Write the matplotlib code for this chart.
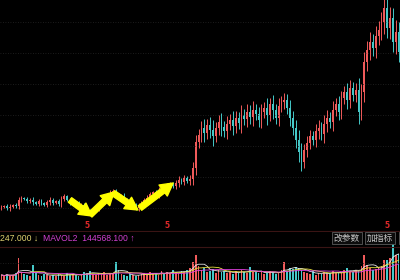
import numpy as np
import pandas as pd
import matplotlib
matplotlib.use('Agg')
import matplotlib.pyplot as plt

# daily closes (price panel)
close = [5.15, 5.2, 5.1, 5.15, 5.25, 5.2,
         5.5, 5.6, 5.55, 5.45, 5.5,
         5.4, 5.3, 5.45, 5.35, 5.25, 5.4, 5.5, 5.35,
         5.45, 5.3, 5.55, 5.7, 5.5, 5.35,
         5.4, 5.3, 5.15, 5.25, 5.05, 4.95, 4.85, 5.0,
         5.1, 5.3, 5.45, 5.6, 5.7, 5.85, 5.95,
         5.8, 5.65, 5.7, 5.5, 5.35, 5.2, 5.25, 5.1,
         5.2, 5.35, 5.5, 5.6, 5.8, 5.9, 5.75, 6.0, 6.1, 5.95, 6.2, 6.3, 6.2, 6.35,
         6.5, 6.4, 6.6, 6.45, 6.55,
         7.1, 8.4,
         8.75, 9.1, 8.85, 9.25, 9.0, 8.7, 9.1, 9.4, 9.15, 8.95, 9.3,
         9.5, 9.2, 9.6, 9.35, 9.75, 9.55, 9.9, 9.65, 10.0,
         9.8, 9.5, 9.9, 10.1, 9.75, 10.3, 10.0, 9.6, 10.2, 10.4, 10.5, 10.1,
         9.6, 9.1, 8.5, 7.9, 7.4,
         8.0, 8.35, 8.7, 8.5, 8.95, 9.1, 8.8,
         9.3, 9.6, 9.4, 10.0, 10.3, 9.9, 10.6, 10.9, 10.5, 11.1, 10.75, 11.0,
         9.9,
         10.9, 12.4,
         13.0, 13.4, 13.1, 13.7, 14.0, 14.4,
         15.1,
         14.1, 14.6, 13.4, 13.9, 12.9]
first_open = 5.1

# shadow length above/below the body
wick = [0.1, 0.05, 0.1, 0.15, 0.05, 0.1, 0.15, 0.1, 0.05, 0.1,
        0.1, 0.15, 0.05, 0.1, 0.1, 0.05, 0.1, 0.15, 0.1, 0.05,
        0.1, 0.15, 0.1, 0.05, 0.1, 0.1, 0.05, 0.15, 0.1, 0.1,
        0.15, 0.1, 0.05, 0.1, 0.15, 0.1, 0.1, 0.05, 0.15, 0.1,
        0.1, 0.05, 0.1, 0.15, 0.1, 0.1, 0.05, 0.1, 0.15, 0.1,
        0.1, 0.15, 0.1, 0.05, 0.1, 0.15, 0.1, 0.1, 0.15, 0.1,
        0.1, 0.15, 0.2, 0.1, 0.15, 0.1, 0.2, 0.3, 0.35, 0.3,
        0.35, 0.45, 0.3, 0.4, 0.5, 0.3, 0.35, 0.45, 0.3, 0.4,
        0.3, 0.45, 0.35, 0.3, 0.5, 0.3, 0.4, 0.35, 0.45, 0.3,
        0.35, 0.4, 0.3, 0.5, 0.3, 0.45, 0.3, 0.4, 0.3, 0.35,
        0.3, 0.4, 0.35, 0.4, 0.5, 0.45, 0.3, 0.35, 0.3, 0.25,
        0.35, 0.4, 0.3, 0.45, 0.4, 0.3, 0.45, 0.3, 0.4, 0.35,
        0.3, 0.45, 0.4, 0.3, 0.35, 0.6, 0.4, 0.5, 0.45, 0.5,
        0.4, 0.5, 0.45, 0.5, 0.6, 0.5, 0.55, 0.5, 0.6, 0.5]

# volume, 10k lots
vol = [5, 4, 6, 4, 5, 7, 22, 8, 6, 5, 4,
       15, 7, 5, 4, 6, 5, 4, 5,
       4, 6, 5, 4, 7, 5,
       6, 5, 4, 6, 8, 7, 9, 6,
       5, 7, 6, 8, 5, 6, 7,
       18, 10, 6, 5, 4, 6, 5, 4,
       5, 6, 7, 5, 8, 6, 7, 5, 9, 6, 8, 7, 10, 8,
       7, 9, 8, 10, 12,
       18, 25,
       14, 10, 12, 8, 9, 11, 7, 10, 8, 9, 7,
       8, 6, 9, 7, 10, 8, 7, 13, 8,
       9, 7, 8, 6, 7, 9, 8, 6, 7, 10, 18, 9,
       12, 11, 13, 12, 10,
       8, 7, 6, 9, 5, 7, 6,
       8, 6, 7, 9, 7, 8, 7, 10, 12, 9, 8, 10,
       9,
       14, 25,
       15, 12, 10, 11, 13, 14,
       20,
       20, 22, 37, 25, 26]

signal_idx = [30, 58, 135]
signal_text = '5'
# yellow arrows drawn on the chart: (start day, start price) -> (end day, end price)
arrows = [((24.0, 5.5), (31.7, 4.7)),
          ((31.0, 4.75), (39.4, 5.9)),
          ((39.1, 5.85), (47.8, 5.0)),
          ((48.5, 5.1), (60.1, 6.35))]
grid_levels = [14.4, 12.85, 11.3, 9.75, 8.2, 6.65, 5.1]
vol_text = '247.000 \u2193'
mavol_text = 'MAVOL2  144568.100 \u2191'
buttons = ['改参数', '加指标', '指']

up_col = '#f05a5a'
dn_col = '#45c8c8'

n = len(close)
x = np.arange(n)
opens = [first_open] + close[:-1]
hi = [max(o, c) + w for o, c, w in zip(opens, close, wick)]
lo = [min(o, c) - w for o, c, w in zip(opens, close, wick)]
cols = [up_col if c >= o else dn_col for o, c in zip(opens, close)]

fig = plt.figure(figsize=(4, 2.8), dpi=100, facecolor='black')
ax = fig.add_axes([0, 48/280, 1, 232/280], facecolor='black')
axv = fig.add_axes([0, 0, 1, 40/280], facecolor='none')

# price panel
for lv in grid_levels:
    ax.axhline(lv, color='#262626', lw=0.6, ls=(0, (1, 2)))
ax.vlines(x, lo, hi, colors=cols, lw=0.7)
body = [max(abs(c - o), 0.03) for o, c in zip(opens, close)]
ax.bar(x, body, bottom=[min(o, c) for o, c in zip(opens, close)],
       width=0.62, color=cols, linewidth=0)
for (s, e) in arrows:
    ax.annotate('', xy=e, xytext=s,
                arrowprops=dict(arrowstyle='simple,head_width=1.1,head_length=1.0,tail_width=0.45',
                                color='#ffff00', shrinkA=0, shrinkB=0, mutation_scale=9))
for i in signal_idx:
    ax.text(i, 4.2, signal_text, color='#e02828', fontsize=5.5, ha='center', va='center',
            fontweight='bold')
ax.set_xlim(-0.5, n - 0.5)
ax.set_ylim(3.9, 15.5)
ax.set_xticks([])
ax.set_yticks([])
for s in ax.spines.values():
    s.set_visible(False)
ax.axhline(3.93, color='#3a1414', lw=0.8)

# volume panel
axv.bar(x, vol, width=0.62, color=cols, linewidth=0)
vs = pd.Series(vol, dtype=float)
axv.plot(x, vs.rolling(5, min_periods=1).mean(), color='#e8e8e8', lw=0.6)
axv.plot(x, vs.rolling(10, min_periods=1).mean(), color='#e8e040', lw=0.6)
axv.plot(x, vs.rolling(20, min_periods=1).mean(), color='#e040e0', lw=0.6)
axv.axhline(33, color='#3a1414', lw=0.8)
axv.axhline(17, color='#262626', lw=0.6, ls=(0, (1, 2)))
axv.set_xlim(-0.5, n - 0.5)
axv.set_ylim(0, 40)
axv.set_xticks([])
axv.set_yticks([])
for s in axv.spines.values():
    s.set_visible(False)

fam = ['Liberation Sans', 'DejaVu Sans']
ty = 1 - 238/280
fig.text(0.0, ty, vol_text, color='#dcd070', fontsize=6.2, family=fam, va='center')
fig.text(43/400, ty, mavol_text, color='#d040d0', fontsize=6.2, family=fam, va='center')

cjk = ['Noto Sans CJK SC', 'DejaVu Sans']
for cx, lab in zip([347, 380, 405], buttons):
    fig.text(cx/400, ty, lab, color='#c8c8c8', fontsize=6.3, family=cjk, ha='center', va='center',
             bbox=dict(boxstyle='square,pad=0.2', facecolor='#0c0c0c', edgecolor='#5a5a5a', lw=0.6))

fig.savefig('out.png', dpi=100, facecolor='black')
